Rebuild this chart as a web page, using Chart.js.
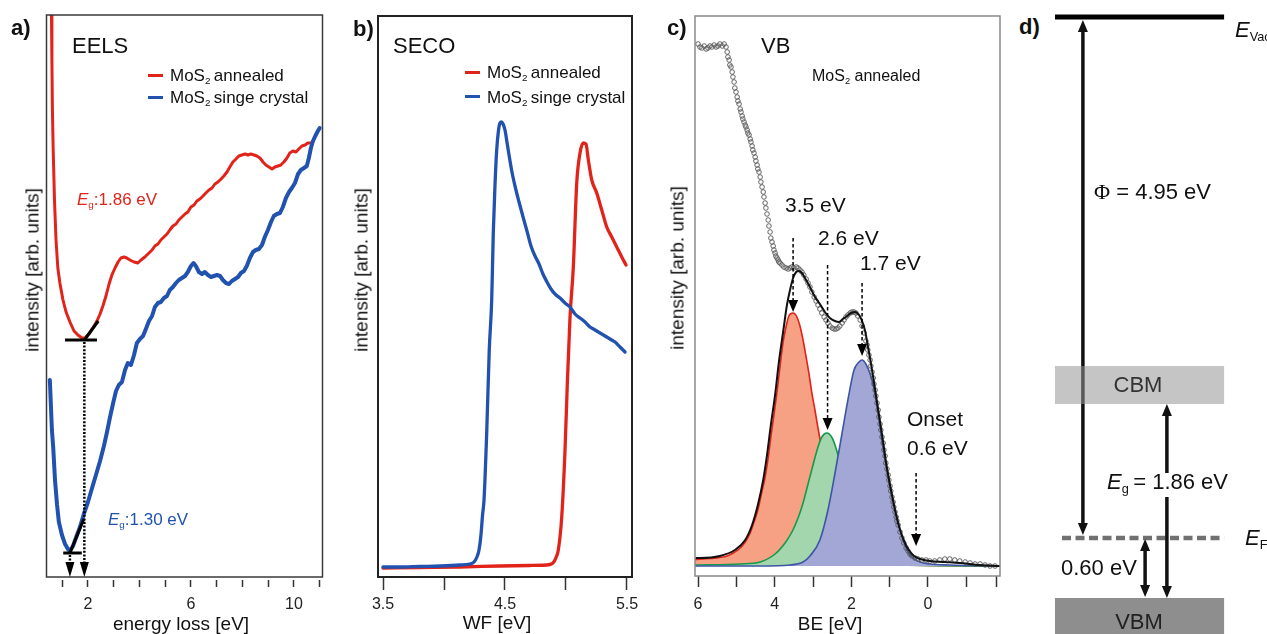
<!DOCTYPE html>
<html><head><meta charset="utf-8">
<title>MoS2 EELS / SECO / VB / band diagram</title>
<script src="https://cdn.jsdelivr.net/npm/chart.js@4.4.1/dist/chart.umd.min.js"></script>
<style>
html,body{margin:0;padding:0;background:#fff;}
#wrap{position:relative;width:1267px;height:634px;overflow:hidden;font-family:"Liberation Sans",Arial,Helvetica,sans-serif;color:#111;}
canvas{position:absolute;top:0;}
.t{position:absolute;white-space:nowrap;line-height:1;transform:translateY(-50%);}
.tc{position:absolute;white-space:nowrap;line-height:1;transform:translate(-50%,-50%);}
.rot{position:absolute;white-space:nowrap;line-height:1;transform:translate(-50%,-50%) rotate(-90deg);font-size:19px;}
.lbl{font-weight:bold;font-size:22px;}
.ln{position:absolute;height:3px;width:15px;}
sub{font-size:0.58em;position:relative;top:0.32em;vertical-align:baseline;line-height:0;}
</style></head><body>
<div id="wrap">
<canvas id="ca" width="330" height="634" style="left:0px"></canvas>
<canvas id="cb" width="330" height="634" style="left:330px"></canvas>
<canvas id="cc" width="360" height="634" style="left:650px"></canvas>
<canvas id="cd" width="227" height="634" style="left:1040px"></canvas>

<!-- panel a -->
<div class="t lbl" style="left:11px;top:28px">a)</div>
<div class="t" style="left:72px;top:46px;font-size:22px">EELS</div>
<div class="ln" style="left:148px;top:73.5px;background:#e2231a"></div>
<div class="t" style="left:170px;top:75px;font-size:17px">MoS<sub>2</sub>&thinsp;annealed</div>
<div class="ln" style="left:148px;top:95.5px;background:#2152b0"></div>
<div class="t" style="left:170px;top:97px;font-size:17px">MoS<sub>2</sub>&thinsp;singe crystal</div>
<div class="t" style="left:77px;top:199px;font-size:17px;color:#e2231a"><i>E</i><sub>g</sub>:1.86 eV</div>
<div class="t" style="left:108px;top:519px;font-size:17px;color:#2152b0"><i>E</i><sub>g</sub>:1.30 eV</div>
<div class="rot" style="left:32px;top:270px">intensity [arb. units]</div>
<div class="tc" style="left:181px;top:623px;font-size:19px">energy loss [eV]</div>

<!-- panel b -->
<div class="t lbl" style="left:353px;top:29px">b)</div>
<div class="t" style="left:393px;top:46px;font-size:22px">SECO</div>
<div class="ln" style="left:465px;top:70.5px;background:#e2231a"></div>
<div class="t" style="left:487px;top:72px;font-size:17px">MoS<sub>2</sub>&thinsp;annealed</div>
<div class="ln" style="left:465px;top:95px;background:#2152b0"></div>
<div class="t" style="left:487px;top:96.5px;font-size:17px">MoS<sub>2</sub>&thinsp;singe crystal</div>
<div class="rot" style="left:361px;top:270px">intensity [arb. units]</div>
<div class="tc" style="left:497px;top:622px;font-size:19px">WF [eV]</div>

<!-- panel c -->
<div class="t lbl" style="left:667px;top:28px">c)</div>
<div class="t" style="left:761px;top:46px;font-size:22px">VB</div>
<div class="t" style="left:812px;top:76px;font-size:16px">MoS<sub>2</sub> annealed</div>
<div class="t" style="left:785px;top:204px;font-size:21px">3.5 eV</div>
<div class="t" style="left:818px;top:237px;font-size:21px">2.6 eV</div>
<div class="t" style="left:860px;top:262px;font-size:21px">1.7 eV</div>
<div class="t" style="left:907px;top:418px;font-size:21px">Onset</div>
<div class="t" style="left:907px;top:447px;font-size:21px">0.6 eV</div>
<div class="rot" style="left:677px;top:268px">intensity [arb. units]</div>
<div class="tc" style="left:830px;top:623px;font-size:19px">BE [eV]</div>

<!-- panel d -->
<div class="t lbl" style="left:1019px;top:27px">d)</div>
<div class="t" style="left:1235px;top:30px;font-size:22px"><i>E</i><sub>Vac</sub></div>
<div class="t" style="left:1094px;top:192px;font-size:22px"><span style="font-family:'Liberation Serif',serif">&Phi;</span> = 4.95 eV</div>
<div class="tc" style="left:1138px;top:385px;font-size:22px;color:#333">CBM</div>
<div class="t" style="left:1107px;top:482px;font-size:22px"><i>E</i><sub>g</sub>&thinsp;= 1.86 eV</div>
<div class="t" style="left:1245px;top:538px;font-size:22px"><i>E</i><sub>F</sub></div>
<div class="t" style="left:1061px;top:568px;font-size:22px">0.60 eV</div>
<div class="tc" style="left:1139px;top:622px;font-size:22px;color:#222">VBM</div>
</div>

<script>
// ---------------- DATA ----------------
// a) EELS : energy loss [eV] vs intensity [arb. units]
const eelsTicks = [1,2,3,4,5,6,7,8,9,10,11];
const eelsTickLabels = [2,6,10];
const eelsAnnealedE = [0.58,0.60,0.62,0.65,0.70,0.76,0.83,0.91,1.03,1.15,1.30,1.46,1.61,1.77,1.88,2.04,2.19,2.35,2.47,2.58,2.70,2.82,2.93,3.05,3.17,3.28,3.40,3.51,3.63,3.79,3.94,4.06,4.21,4.33,4.49,4.60,4.72,4.83,4.95,5.07,5.18,5.30,5.42,5.53,5.65,5.77,5.88,6.00,6.12,6.23,6.35,6.47,6.58,6.70,6.82,6.93,7.05,7.17,7.28,7.40,7.51,7.63,7.75,7.86,7.98,8.10,8.21,8.33,8.45,8.56,8.68,8.80,8.91,9.03,9.15,9.26,9.38,9.49,9.61,9.73,9.84,9.96,10.08,10.19,10.31,10.43,10.54,10.66];
const eelsAnnealedI = [572,517,467,427,377,337,309,294,277,265,255,246,242,239,239,243,249,256,263,271,281,293,302,309,315,319,320,319,317,315,314,317,320,323,327,331,333,337,340,343,347,351,353,357,360,363,365,370,372,376,378,381,384,387,389,393,395,398,401,405,410,415,418,421,422,423,422,423,422,421,419,415,412,410,408,410,411,412,415,419,424,426,425,428,431,432,434,434];
const eelsCrystalE = [0.52,0.56,0.60,0.65,0.72,0.80,0.87,0.99,1.11,1.22,1.30,1.42,1.53,1.69,1.84,2.00,2.16,2.31,2.47,2.62,2.74,2.85,2.97,3.09,3.20,3.32,3.44,3.55,3.67,3.79,3.90,4.02,4.14,4.25,4.37,4.49,4.60,4.72,4.83,4.95,5.07,5.18,5.30,5.42,5.53,5.65,5.77,5.88,6.00,6.10,6.19,6.31,6.43,6.54,6.66,6.78,6.89,7.01,7.13,7.24,7.36,7.48,7.59,7.71,7.83,7.94,8.06,8.17,8.29,8.41,8.52,8.64,8.76,8.87,8.99,9.11,9.22,9.34,9.46,9.57,9.69,9.81,9.92,10.04,10.16,10.27,10.39,10.50,10.58,10.66,10.74,10.83,10.91,11.00];
const eelsCrystalI = [197,172,147,130,97,72,55,42,33,28,26,31,39,50,63,75,89,102,116,131,145,159,173,186,192,195,207,214,212,222,234,238,241,248,256,261,270,274,275,279,281,287,290,294,297,299,301,305,311,314,311,305,303,305,302,300,301,302,301,297,294,293,296,298,300,304,306,311,319,325,327,328,332,340,347,355,361,363,364,370,379,385,389,394,403,407,409,411,419,429,436,441,445,449];
// onset construction (annealed, single crystal)
const eelsGapE = [1.86, 1.30];
const eelsBaseI = [237, 24];
const eelsBarE = [[1.11, 2.35], [1.04, 1.76]];
const eelsTangentEnd = [[2.40, 256], [1.84, 58]];

// b) SECO : WF [eV]
const wfTicks = [3.5,4,4.5,5,5.5];
const wfTickLabels = [3.5,4.5,5.5];
const secoAnnealedE = [3.50,3.80,4.13,4.46,4.70,4.87,4.90,4.92,4.937,4.965,4.992,5.011,5.033,5.060,5.088,5.115,5.142,5.164,5.183,5.211,5.252,5.293,5.334,5.375,5.416,5.457,5.492];
const secoAnnealedI = [9,9.5,10,11,11.5,12.5,15,20,27,60,127,194,260,310,394,424,434,433,417,397,384,367,350,340,330,320,312];
const secoCrystalE = [3.50,3.64,3.80,3.97,4.13,4.21,4.246,4.270,4.287,4.303,4.316,4.328,4.350,4.371,4.391,4.404,4.418,4.432,4.447,4.459,4.471,4.484,4.500,4.516,4.533,4.557,4.582,4.615,4.648,4.680,4.713,4.746,4.779,4.811,4.844,4.877,4.910,4.951,4.992,5.033,5.074,5.115,5.156,5.197,5.238,5.279,5.320,5.361,5.402,5.443,5.484];
const secoCrystalI = [10,10,10.5,11,12,13,15,20,27,42,62,77,144,227,277,344,392,427,447,454,455,453,447,435,422,405,391,375,360,346,331,321,313,303,295,288,283,279,274,270,263,259,255,250,247,244,241,238,235,230,225];

// c) VB : BE [eV]
const beTicks = [6,5,4,3,2,1,0,-1,-1.8];
const beTickLabels = [6,4,2,0];
const vbDataE = [6.00,5.95,5.90,5.84,5.79,5.74,5.69,5.64,5.58,5.53,5.48,5.43,5.37,5.32,5.27,5.24,5.22,5.19,5.17,5.14,5.11,5.09,5.06,5.04,5.01,4.98,4.96,4.93,4.90,4.88,4.85,4.83,4.80,4.77,4.75,4.72,4.70,4.67,4.64,4.62,4.59,4.57,4.54,4.51,4.49,4.46,4.44,4.41,4.38,4.36,4.33,4.30,4.28,4.25,4.23,4.20,4.17,4.15,4.12,4.10,4.07,4.04,4.02,3.99,3.97,3.94,3.91,3.89,3.86,3.81,3.76,3.70,3.65,3.60,3.55,3.50,3.44,3.39,3.34,3.29,3.24,3.18,3.13,3.08,3.03,2.97,2.92,2.87,2.82,2.77,2.71,2.66,2.61,2.56,2.50,2.45,2.40,2.35,2.30,2.24,2.19,2.14,2.09,2.03,1.98,1.93,1.88,1.83,1.77,1.72,1.67,1.62,1.59,1.57,1.54,1.51,1.49,1.46,1.43,1.41,1.38,1.36,1.33,1.30,1.28,1.25,1.23,1.20,1.17,1.15,1.12,1.10,1.07,1.04,1.02,0.99,0.97,0.94,0.91,0.89,0.86,0.83,0.81,0.78,0.73,0.68,0.63,0.57,0.52,0.47,0.42,0.34,0.26,0.16,0.05,-0.05,-0.18,-0.31,-0.44,-0.57,-0.70,-0.83,-0.97,-1.10,-1.23,-1.36,-1.49,-1.62,-1.75];
const vbDataI = [532,529,528,530,527,528,530,529,531,529,530,532,530,532,529,524,519,516,511,509,504,499,494,488,484,479,475,472,467,464,460,457,454,451,449,446,443,441,437,434,430,426,423,419,415,411,407,404,399,394,389,384,379,373,368,362,356,350,344,338,334,330,326,323,320,318,316,314,313,311,309,308,307,308,309,308,309,308,306,304,301,297,293,289,284,279,275,271,267,263,259,256,253,250,248,247,247,248,250,253,256,259,261,263,264,264,263,260,256,250,243,235,231,226,221,216,210,204,198,192,186,180,173,166,159,152,146,139,133,126,120,113,107,101,96,90,85,79,74,69,64,59,55,51,44,38,33,28,25,22,20,18,17,16,16,15,15,16,17,17,16,15,14,13,12,12,11,10,10];
const vbFitE = [6.05,5.95,5.43,5.04,4.77,4.59,4.44,4.30,4.20,4.10,3.99,3.89,3.78,3.68,3.60,3.52,3.44,3.37,3.29,3.18,3.08,2.95,2.82,2.69,2.56,2.43,2.32,2.22,2.11,2.01,1.90,1.80,1.72,1.64,1.57,1.49,1.41,1.33,1.25,1.17,1.10,1.02,0.94,0.86,0.78,0.70,0.60,0.50,0.37,0.21,-0.05,-0.44,-0.83,-1.36,-1.85];
const vbFitI = [18,18,20,26,36,51,71,96,121,151,181,214,244,271,286,298,304,305,303,296,289,279,272,264,258,255,254,257,260,263,264,261,255,245,230,213,194,174,154,134,115,97,81,66,53,43,33,26,20,17,15,14,13,11,10];
const vbPeak35E = [6.08,5.69,5.43,5.24,5.04,4.90,4.77,4.64,4.54,4.44,4.33,4.25,4.17,4.10,4.02,3.94,3.86,3.78,3.70,3.63,3.52,3.42,3.34,3.26,3.18,3.10,3.03,2.95,2.87,2.79,2.69,2.58,2.48,2.35,2.19,2.03,1.83,1.51,0.73,-1.88];
const vbPeak35I = [16.5,17.5,18.5,20,24,28,34,43,54,66,85,99,118,139,161,184,210,234,250,260,263,259,250,236,219,201,183,166,148,131,108,86,66,46,29,19,14,12,11,10];
const vbPeak26E = [6.08,4.90,4.38,3.99,3.73,3.55,3.39,3.26,3.13,3.00,2.87,2.77,2.64,2.50,2.37,2.24,2.11,1.98,1.85,1.70,1.51,1.25,0.73,-1.88];
const vbPeak26I = [11,12,14,22,33,44,58,73,92,111,129,139,143,138,124,104,82,61,43,28,18,13,11,10];
const vbPeak17E = [6.08,4.38,3.60,3.26,3.08,2.82,2.61,2.43,2.25,2.09,1.93,1.80,1.72,1.62,1.51,1.41,1.30,1.17,1.04,0.91,0.78,0.65,0.52,0.39,0.21,-0.05,-0.57,-1.88];
const vbPeak17I = [10,10,11,14,20,36,66,102,141,176,206,214,216,212,202,188,163,128,100,76,54,36,24,18,14,12,11,10];
const vbBaseline = 10;
// marker arrows: BE position, start intensity, tip intensity
const vbMarkE = [3.52, 2.62, 1.72, 0.31];
const vbMarkTop = [338, 311, 293, 103];
const vbMarkTip = [264, 146, 220, 30];

// d) band diagram values
const bandValues = [4.95, 1.86, 0.60]; // work function, gap, EF-VBM
// schematic layout of the diagram (diagram units, not to scale)
const dLayout = {
  box: [6.6, 81.1], efLine: [9.7, 81.1], vacY: 5.21,
  cbm: [1.34, 1.72], vbm: [-0.96, -0.60], efY: 0,
  phiX: 18.9, phiTip: [5.18, 0.03],
  gapX: 55.9, gapBreak: [0.65, 0.41],
  efvbX: 46.3, efvbTip: [-0.01, -0.59]
};

// ---------------- HELPERS ----------------
const FONT = '"Liberation Sans", Arial, sans-serif';
const RED = '#e2231a', BLUE = '#2152b0';
const pts = (xs, ys) => xs.map((x, i) => ({x: x, y: ys[i]}));

function xAxis(o) {
  return {
    type: 'linear', min: o.min, max: o.max, reverse: !!o.reverse,
    border: {display: false},
    grid: {drawOnChartArea: false, drawTicks: true, tickLength: o.tl, tickColor: '#333', tickWidth: 1.5, tickBorderDash: o.dash || []},
    ticks: {autoSkip: false, maxRotation: 0, minRotation: 0, padding: o.pad, color: '#222',
      font: {family: FONT, size: 16},
      callback: v => o.labels.includes(v) ? String(v) : ''},
    afterBuildTicks: ax => { ax.ticks = o.ticks.map(v => ({value: v})); },
    afterFit: ax => { ax.height = o.h; }
  };
}
function framePlugin(color, lw) {
  return {id: 'frame', afterDatasetsDraw(chart) {
    const {ctx, chartArea: a} = chart;
    ctx.save(); ctx.strokeStyle = color; ctx.lineWidth = lw;
    ctx.strokeRect(a.left, a.top, a.right - a.left, a.bottom - a.top);
    ctx.restore();
  }};
}
function opts(xa, ymin, ymax, pad) {
  return {
    responsive: false, animation: false, events: [],
    layout: {padding: pad},
    plugins: {legend: {display: false}, tooltip: {enabled: false}},
    scales: {x: xa, y: {type: 'linear', min: ymin, max: ymax, display: false}}
  };
}
function lineDs(data, color, w, extra) {
  return Object.assign({data: data, borderColor: color, borderWidth: w, pointRadius: 0, fill: false,
    borderJoinStyle: 'round', borderCapStyle: 'round', tension: 0}, extra || {});
}
function head(ctx, x, yTip, dir, o) {
  const base = yTip - dir * o.head;
  ctx.beginPath(); ctx.moveTo(x, yTip); ctx.lineTo(x - o.w / 2, base); ctx.lineTo(x + o.w / 2, base); ctx.closePath(); ctx.fill();
}
function drawArrow(ctx, x, yFrom, yTip, o) {
  const dir = yTip > yFrom ? 1 : -1;
  ctx.save();
  ctx.strokeStyle = o.color || '#000'; ctx.fillStyle = o.color || '#000';
  ctx.lineWidth = o.lw; ctx.setLineDash(o.dash || []);
  ctx.beginPath(); ctx.moveTo(x, yFrom); ctx.lineTo(x, yTip - dir * o.head); ctx.stroke();
  ctx.setLineDash([]);
  head(ctx, x, yTip, dir, o);
  ctx.restore();
}
function drawDoubleArrow(ctx, x, yTop, yBottom, o) {
  ctx.save();
  ctx.strokeStyle = o.color || '#000'; ctx.fillStyle = o.color || '#000';
  ctx.lineWidth = o.lw;
  ctx.beginPath(); ctx.moveTo(x, yTop + o.head); ctx.lineTo(x, yBottom - o.head); ctx.stroke();
  head(ctx, x, yTop, -1, o);
  head(ctx, x, yBottom, 1, o);
  ctx.restore();
}

// ---------------- PANEL A ----------------
const eelsMarks = {id: 'eelsMarks', afterDatasetsDraw(chart) {
  const {ctx, scales: {x, y}} = chart;
  ctx.save();
  ctx.strokeStyle = '#000'; ctx.lineCap = 'butt';
  eelsGapE.forEach((g, i) => {
    const yb = y.getPixelForValue(eelsBaseI[i]);
    ctx.lineWidth = 3;
    ctx.beginPath(); ctx.moveTo(x.getPixelForValue(eelsBarE[i][0]), yb); ctx.lineTo(x.getPixelForValue(eelsBarE[i][1]), yb); ctx.stroke();
    ctx.beginPath(); ctx.moveTo(x.getPixelForValue(g), yb);
    ctx.lineTo(x.getPixelForValue(eelsTangentEnd[i][0]), y.getPixelForValue(eelsTangentEnd[i][1])); ctx.stroke();
    drawArrow(ctx, x.getPixelForValue(g), yb + 2, y.getPixelForValue(0), {lw: 2.5, dash: [2, 1.6], head: 15, w: 9});
  });
  ctx.restore();
}};
new Chart(document.getElementById('ca'), {
  type: 'line',
  data: {datasets: [
    lineDs(pts(eelsCrystalE, eelsCrystalI), BLUE, 4),
    lineDs(pts(eelsAnnealedE, eelsAnnealedI), RED, 3)
  ]},
  options: opts(xAxis({min: 0.39, max: 11.11, ticks: eelsTicks, labels: eelsTickLabels, tl: 10, pad: 8.4, dash: [0, 3, 7, 0], h: 57}),
    0, 562, {left: 46.5, right: 7.5, top: 15, bottom: 0}),
  plugins: [framePlugin('#3a3a3a', 1.5), eelsMarks]
});

// ---------------- PANEL B ----------------
new Chart(document.getElementById('cb'), {
  type: 'line',
  data: {datasets: [
    lineDs(pts(secoCrystalE, secoCrystalI), BLUE, 3.3, {cubicInterpolationMode: 'monotone'}),
    lineDs(pts(secoAnnealedE, secoAnnealedI), RED, 3.3, {cubicInterpolationMode: 'monotone'})
  ]},
  options: opts(xAxis({min: 3.459, max: 5.541, ticks: wfTicks, labels: wfTickLabels, tl: 13, pad: 5.4, h: 57}),
    0, 561, {left: 48, right: 28, top: 16, bottom: 0}),
  plugins: [framePlugin('#222', 2)]
});

// ---------------- PANEL C ----------------
const vbMarks = {id: 'vbMarks', afterDatasetsDraw(chart) {
  const {ctx, scales: {x, y}} = chart;
  vbMarkE.forEach((e, i) => {
    drawArrow(ctx, x.getPixelForValue(e), y.getPixelForValue(vbMarkTop[i]), y.getPixelForValue(vbMarkTip[i]),
      {lw: 1.5, dash: [3.5, 2.5], head: 12, w: 10});
  });
}};
new Chart(document.getElementById('cc'), {
  type: 'line',
  data: {datasets: [
    lineDs(pts(vbFitE, vbFitI), '#111', 2, {cubicInterpolationMode: 'monotone', order: 0}),
    {data: pts(vbDataE, vbDataI), showLine: false, pointRadius: 2.3, pointBorderWidth: 0.9,
      pointBorderColor: '#555', pointBackgroundColor: 'rgba(255,255,255,0)', borderColor: '#555', order: 1},
    lineDs(pts(vbPeak17E, vbPeak17I), '#3d55a5', 1.6, {cubicInterpolationMode: 'monotone', fill: {value: vbBaseline}, backgroundColor: '#a2a7d6', order: 2}),
    lineDs(pts(vbPeak26E, vbPeak26I), '#16994a', 1.6, {cubicInterpolationMode: 'monotone', fill: {value: vbBaseline}, backgroundColor: '#a3d6ad', order: 3}),
    lineDs(pts(vbPeak35E, vbPeak35I), RED, 1.6, {cubicInterpolationMode: 'monotone', fill: {value: vbBaseline}, backgroundColor: '#f6a183', order: 4})
  ]},
  options: opts(xAxis({min: -1.88, max: 6.08, reverse: true, ticks: beTicks, labels: beTickLabels, tl: 11, pad: 8.4, h: 58}),
    0, 560, {left: 45, right: 10, top: 16, bottom: 0}),
  plugins: [framePlugin('#8a8a8a', 1.5), vbMarks]
});

// ---------------- PANEL D ----------------
const L = dLayout;
const bandPlugin = {id: 'band', afterDatasetsDraw(chart) {
  const {ctx, scales: {x, y}} = chart;
  const px = v => x.getPixelForValue(v), py = v => y.getPixelForValue(v);
  const A = {lw: 3.5, head: 12, w: 10, color: '#111'};
  drawDoubleArrow(ctx, px(L.phiX), py(L.phiTip[0]), py(L.phiTip[1]), A);
  drawArrow(ctx, px(L.gapX), py(L.gapBreak[0]), py(L.cbm[0]), A);
  drawArrow(ctx, px(L.gapX), py(L.gapBreak[1]), py(L.vbm[1]), A);
  drawDoubleArrow(ctx, px(L.efvbX), py(L.efvbTip[0]), py(L.efvbTip[1]), A);
  ctx.save();
  ctx.fillStyle = 'rgba(150,150,150,0.55)';
  ctx.fillRect(px(L.box[0]), py(L.cbm[1]), px(L.box[1]) - px(L.box[0]), py(L.cbm[0]) - py(L.cbm[1]));
  ctx.fillStyle = '#8e8e8e';
  ctx.fillRect(px(L.box[0]), py(L.vbm[1]), px(L.box[1]) - px(L.box[0]), py(L.vbm[0]) - py(L.vbm[1]));
  ctx.restore();
}};
new Chart(document.getElementById('cd'), {
  type: 'line',
  data: {datasets: [
    lineDs([{x: L.box[0], y: L.vacY}, {x: L.box[1], y: L.vacY}], '#000', 5, {borderCapStyle: 'butt'}),
    lineDs([{x: L.efLine[0], y: L.efY}, {x: L.efLine[1], y: L.efY}], '#707070', 4.5, {borderCapStyle: 'butt', borderDash: [9, 4.5]})
  ]},
  options: {
    responsive: false, animation: false, events: [],
    layout: {padding: 0},
    plugins: {legend: {display: false}, tooltip: {enabled: false}},
    scales: {x: {type: 'linear', min: 0, max: 100, display: false}, y: {type: 'linear', min: -0.96, max: 5.38, display: false}}
  },
  plugins: [bandPlugin]
});
</script>
</body></html>
